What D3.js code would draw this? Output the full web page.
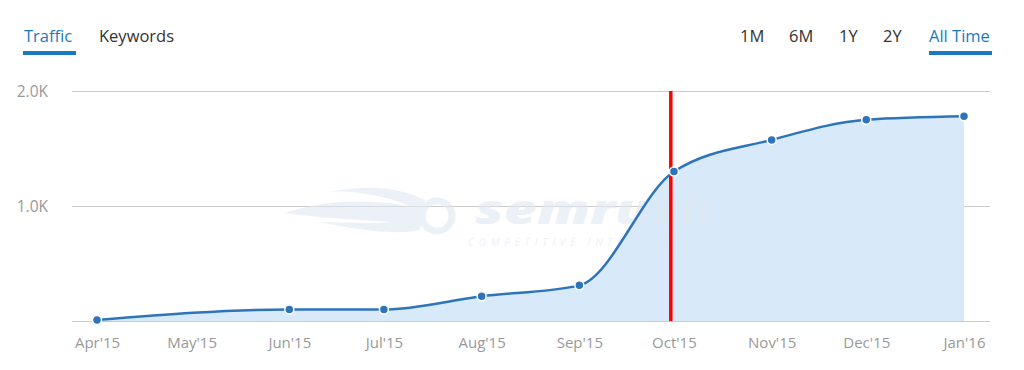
<!DOCTYPE html>
<html>
<head>
<meta charset="utf-8">
<script src="https://cdn.jsdelivr.net/npm/d3@7"></script>
<style>
  body { margin: 0; background: #fff; }
  svg text { font-family: "Open Sans", sans-serif; }
</style>
</head>
<body>
<div class="canvas"></div>
<script>
// data
const months = ['2015-04-01', '2015-06-01', '2015-07-01', '2015-08-01', '2015-09-01',
                '2015-10-01', '2015-11-01', '2015-12-01', '2016-01-01'];
const traffic = [8, 100, 100, 215, 310, 1300, 1575, 1750, 1780];
const tickMonths = ['2015-04-01', '2015-05-01', '2015-06-01', '2015-07-01', '2015-08-01',
                    '2015-09-01', '2015-10-01', '2015-11-01', '2015-12-01', '2016-01-01'];
const yTicks = [0, 1000, 2000];
const markerDate = '2015-09-30';
const tabs = ['Traffic', 'Keywords'];
const ranges = ['1M', '6M', '1Y', '2Y', 'All Time'];

const parse = d3.timeParse('%Y-%m-%d');
const data = months.map((m, i) => ({ date: parse(m), value: traffic[i] }));

const width = 1024, height = 370;
const svg = d3.select('.canvas')
  .append('svg')
  .attr('width', width)
  .attr('height', height);

// plot area
const plot = { left: 72, right: 990, top: 91, bottom: 321 };

const x = d3.scaleTime()
  .domain([parse('2015-04-01'), parse('2016-01-01')])
  .range([97, 964]);

const y = d3.scaleLinear()
  .domain([0, 2000])
  .range([plot.bottom, plot.top]);

// tabs
const blue = '#1a7ac0';
svg.append('text').attr('x', 24).attr('y', 42).text(tabs[0])
  .attr('font-size', 16.5).attr('fill', blue);
svg.append('rect').attr('x', 23).attr('y', 51).attr('width', 53).attr('height', 4).attr('fill', blue);
svg.append('text').attr('x', 99).attr('y', 42).text(tabs[1])
  .attr('font-size', 16.5).attr('fill', '#333');

const rangeX = [740, 789, 839, 883, 929];
ranges.forEach((r, i) => {
  svg.append('text').attr('x', rangeX[i]).attr('y', 42).text(r)
    .attr('font-size', 16.5).attr('fill', i === ranges.length - 1 ? blue : '#333');
});
svg.append('rect').attr('x', 929).attr('y', 51).attr('width', 63).attr('height', 4).attr('fill', blue);

// gridlines
svg.append('g')
  .selectAll('line')
  .data(yTicks.filter(d => d > 0))
  .enter()
  .append('line')
    .attr('x1', plot.left).attr('x2', plot.right)
    .attr('y1', d => y(d) + 0.5).attr('y2', d => y(d) + 0.5)
    .attr('stroke', '#cccccc');

// y labels
svg.append('g')
  .selectAll('text')
  .data(yTicks.filter(d => d > 0))
  .enter()
  .append('text')
    .attr('x', 48).attr('y', d => y(d) + 6)
    .attr('text-anchor', 'end')
    .attr('font-size', 15.5).attr('fill', '#999')
    .text(d => d3.format('.1f')(d / 1000) + 'K');

// area
const area = d3.area()
  .x(d => x(d.date))
  .y0(y(0))
  .y1(d => y(d.value))
  .curve(d3.curveMonotoneX);

svg.append('path').datum(data)
  .attr('d', area)
  .attr('fill', '#d8eaf9');

// watermark (sits over the area, under the line)
const wmColor = '#dfe9f2';
const wm = svg.append('g').attr('opacity', 0.6);
wm.append('path')
  .attr('d', 'M285,213 C330,198 370,200 410,206 C380,194 350,190 330,192 C370,184 400,188 425,200 L420,230 C390,236 350,228 320,222 C345,222 370,224 395,222 C360,220 320,218 285,213 Z')
  .attr('fill', wmColor);
wm.append('circle').attr('cx', 437).attr('cy', 216).attr('r', 15)
  .attr('fill', 'none').attr('stroke', wmColor).attr('stroke-width', 7);
wm.append('text').attr('x', 475).attr('y', 224).text('semrush')
  .attr('font-size', 40).attr('font-weight', 800).attr('font-style', 'italic')
  .attr('fill', wmColor)
  .attr('textLength', 240).attr('lengthAdjust', 'spacingAndGlyphs');
wm.append('text').attr('x', 468).attr('y', 246).text('COMPETITIVE INTELLIGENCE')
  .attr('font-size', 10).attr('font-style', 'italic')
  .attr('fill', wmColor)
  .attr('textLength', 236).attr('lengthAdjust', 'spacing');

// baseline
svg.append('line')
  .attr('x1', plot.left).attr('x2', plot.right)
  .attr('y1', y(0) + 0.5).attr('y2', y(0) + 0.5)
  .attr('stroke', '#b9cfe3');

// x axis labels
const xAxis = d3.axisBottom(x)
  .tickValues(tickMonths.map(parse))
  .tickSize(0)
  .tickPadding(0)
  .tickFormat(d3.timeFormat("%b'%y"));

const xAxisGroup = svg.append('g')
  .attr('transform', `translate(0, 337)`)
  .call(xAxis);
xAxisGroup.select('.domain').remove();
xAxisGroup.selectAll('text')
  .attr('font-family', '"Open Sans", sans-serif')
  .attr('font-size', 15)
  .attr('fill', '#999');

// red marker
svg.append('line')
  .attr('x1', x(parse(markerDate))).attr('x2', x(parse(markerDate)))
  .attr('y1', plot.top).attr('y2', plot.bottom)
  .attr('stroke', '#ff0000').attr('stroke-width', 3.5);

// line
const line = d3.line()
  .x(d => x(d.date))
  .y(d => y(d.value))
  .curve(d3.curveMonotoneX);

svg.append('path').datum(data)
  .attr('d', line)
  .attr('fill', 'none')
  .attr('stroke', '#2e74bb')
  .attr('stroke-width', 2.5);

// points
svg.append('g')
  .selectAll('circle')
  .data(data)
  .enter()
  .append('circle')
    .attr('cx', d => x(d.date))
    .attr('cy', d => y(d.value))
    .attr('r', 4.5)
    .attr('fill', '#2e74bb')
    .attr('stroke', '#fff')
    .attr('stroke-width', 1.5);
</script>
</body>
</html>
